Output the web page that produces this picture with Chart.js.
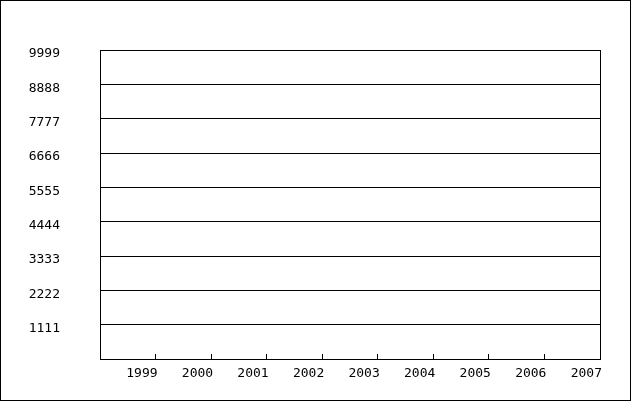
<!DOCTYPE html>
<html>
<head>
<meta charset="utf-8">
<script src="https://cdn.jsdelivr.net/npm/chart.js@4"></script>
<style>
    body { margin: 0; background: #fff; }
    #wrap { width: 635px; height: 405px; }
</style>
</head>
<body>
<div id="wrap"><canvas id="chart" width="635" height="405"></canvas></div>
<script>
const years = [1999, 2000, 2001, 2002, 2003, 2004, 2005, 2006, 2007];
const yTicks = [1111, 2222, 3333, 4444, 5555, 6666, 7777, 8888, 9999];
const series = [];   // the chart has no plotted values

// frame round the plot area and the outer picture border
const framePlugin = {
    id: 'frame',
    afterDraw(chart) {
        const { ctx, chartArea: a } = chart;
        ctx.save();
        ctx.strokeStyle = '#000';
        ctx.lineWidth = 1;
        ctx.strokeRect(Math.round(a.left) + 0.5, Math.round(a.top) + 0.5,
            Math.round(a.right - a.left), Math.round(a.bottom - a.top));
        ctx.strokeRect(0.5, 0.5, 630, 400);
        ctx.restore();
    }
};

const font = { family: 'DejaVu Sans Mono', size: 13 };

new Chart(document.getElementById('chart'), {
    type: 'line',
    data: { datasets: [{ data: series }] },
    options: {
        responsive: false,
        animation: false,
        devicePixelRatio: 1,
        layout: { padding: { left: 0, top: 50, right: 35, bottom: 0 } },
        plugins: { legend: { display: false }, tooltip: { enabled: false } },
        scales: {
            x: {
                type: 'linear',
                min: years[0] - 1,
                max: years[years.length - 1],
                afterBuildTicks: s => { s.ticks = years.map(v => ({ value: v })); },
                afterFit: s => { s.height = 46; },
                grid: { drawOnChartArea: false, tickLength: -5, color: '#000' },
                border: { display: true, color: '#000' },
                ticks: {
                    font, color: '#000', align: 'end', labelOffset: 2, padding: 12,
                    maxRotation: 0, autoSkip: false,
                    callback: v => String(v)
                }
            },
            y: {
                min: 0,
                max: yTicks[yTicks.length - 1],
                afterBuildTicks: s => { s.ticks = [0, ...yTicks].map(v => ({ value: v })); },
                afterFit: s => { s.width = 100; s.paddingTop = 0; s.paddingBottom = 0; },
                grid: { color: '#000', drawTicks: false },
                border: { display: true, color: '#000' },
                ticks: {
                    font, color: '#000', padding: 40, labelOffset: 4,
                    callback: v => v === 0 ? '' : String(v)
                }
            }
        }
    },
    plugins: [framePlugin]
});
</script>
</body>
</html>
